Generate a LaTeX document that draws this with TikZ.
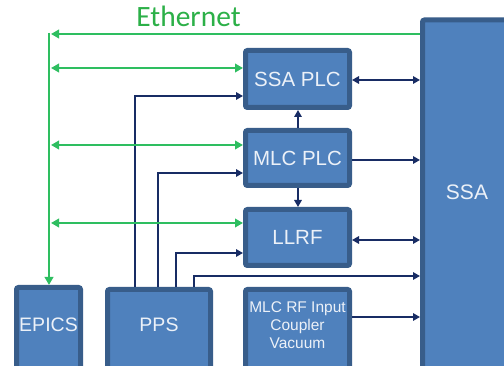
\documentclass[tikz,border=0pt]{standalone}
\usepackage{fontspec}
\setmainfont{Liberation Sans}
\newfontfamily\ethfont{Carlito}
\usetikzlibrary{arrows.meta}
\definecolor{boxfill}{RGB}{79,129,189}
\definecolor{boxline}{RGB}{56,93,138}
\definecolor{navy}{RGB}{24,44,100}
\definecolor{egreen}{RGB}{46,190,96}
\definecolor{etext}{RGB}{44,176,72}
\definecolor{btext}{RGB}{236,241,248}
\tikzset{
  blk/.style={draw=boxline, fill=boxfill, line width=5pt, rounded corners=2pt,
    text=btext, font=\fontsize{20.5}{24}\selectfont, inner sep=0pt, outer sep=2.5pt},
  nav/.style={draw=navy, line width=1.6pt},
  navarr/.style={nav, -{Triangle[length=7pt,width=7.5pt]}},
  navdbl/.style={nav, {Triangle[length=7pt,width=7.5pt]}-{Triangle[length=7pt,width=7.5pt]}},
  grn/.style={draw=egreen, line width=2.4pt},
  grnarr/.style={grn, -{Triangle[length=8pt,width=8.5pt]}},
  grndbl/.style={grn, {Triangle[length=8pt,width=8.5pt]}-{Triangle[length=8pt,width=8.5pt]}},
}
\begin{document}
\begin{tikzpicture}[x=1pt,y=-1pt]
\useasboundingbox (0,0) rectangle (504,366);
\clip (0,0) rectangle (504,366);
\fill[white] (0,0) rectangle (504,366);
% boxes
\node[blk, minimum width=105pt, minimum height=368pt] (ssa) at (475,204) {};
\node[text=btext, font=\fontsize{21}{24}\selectfont] (ssatext) at (467,192) {SSA};
\node[blk, minimum width=104pt, minimum height=57pt] (ssaplc) at (297.5,79) {SSA PLC};
\node[blk, minimum width=104pt, minimum height=55pt] (mlcplc) at (297.5,158) {MLC PLC};
\node[blk, minimum width=104pt, minimum height=56pt] (llrf) at (297.5,237.5) {LLRF};
\node[blk, minimum width=104pt, minimum height=108pt] (mlcrf) at (297.5,343.5) {};
\node[text=btext, font=\fontsize{15.5}{18}\selectfont, align=center, inner sep=0pt] (mlcrftext) at (297.5,325) {MLC RF Input\\Coupler\\Vacuum};
\node[blk, minimum width=64pt, minimum height=110pt] (epics) at (48.5,342.5) {};
\node[text=btext, font=\fontsize{19.5}{22}\selectfont] (epicstext) at (48.5,325) {EPICS};
\node[blk, minimum width=103pt, minimum height=108pt] (pps) at (159,343.5) {};
\node[text=btext, font=\fontsize{19.5}{22}\selectfont] (ppstext) at (159,325) {PPS};
% Ethernet label
\node[text=etext, font=\ethfont\fontsize{29.5}{31}\selectfont, anchor=base] (eth) at (188.5,27) {Ethernet};
% navy connectors from PPS
\draw[navarr] (pps.north -| 135,0) |- (ssaplc.west |- 0,96);
\draw[navarr] (pps.north -| 158,0) |- (mlcplc.west |- 0,173);
\draw[navarr] (pps.north -| 176,0) |- (llrf.west |- 0,253);
\draw[navarr] (pps.north -| 194,0) |- (ssa.west |- 0,276);
% navy connectors right side
\draw[navdbl] (ssaplc.east |- 0,80) -- (ssa.west |- 0,80);
\draw[navarr] (mlcplc.east |- 0,160) -- (ssa.west |- 0,160);
\draw[navdbl] (llrf.east |- 0,240) -- (ssa.west |- 0,240);
\draw[navarr] (mlcrf.east |- 0,317) -- (ssa.west |- 0,317);
\draw[navarr] (mlcplc.north -| 298,0) -- (ssaplc.south -| 298,0);
\draw[navarr] (mlcplc.south -| 298,0) -- (llrf.north -| 298,0);
% green Ethernet
\coordinate (ecorner) at (49,34);
\draw[grnarr] (ssa.west |- ecorner) -- ([xshift=2pt]ecorner);
\draw[grnarr] ([yshift=1pt]ecorner) -- (epics.north -| ecorner);
\draw[grndbl] ([xshift=2pt]ecorner |- 0,68) -- (ssaplc.west |- 0,68);
\draw[grndbl] ([xshift=2pt]ecorner |- 0,145) -- (mlcplc.west |- 0,145);
\draw[grndbl] ([xshift=2pt]ecorner |- 0,223) -- (llrf.west |- 0,223);
\end{tikzpicture}
\end{document}
